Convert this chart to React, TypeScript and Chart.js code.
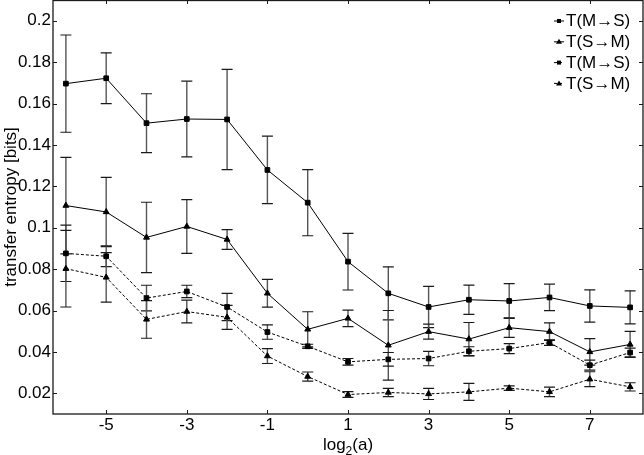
import React, { useEffect, useRef } from 'react';
import { Chart, registerables } from 'chart.js';

Chart.register(...registerables);

// ---- data ----
const xValues = [-6, -5, -4, -3, -2, -1, 0, 1, 2, 3, 4, 5, 6, 7, 8];

// T(M→S), solid line, squares
const mtsA = [0.1696, 0.1722, 0.1505, 0.1525, 0.1523, 0.1279, 0.1121, 0.0836, 0.0683, 0.0617, 0.0652, 0.0646, 0.0663, 0.0622, 0.0615];
const mtsAErr = [0.0235, 0.0123, 0.0142, 0.0183, 0.0242, 0.0163, 0.0160, 0.0137, 0.0128, 0.0100, 0.0071, 0.0084, 0.0064, 0.0078, 0.0080];

// T(S→M), solid line, triangles
const stmA = [0.1107, 0.1076, 0.0953, 0.1006, 0.0943, 0.0683, 0.0509, 0.0562, 0.0432, 0.0498, 0.0462, 0.0517, 0.0498, 0.0400, 0.0436];
const stmAErr = [0.0233, 0.0167, 0.0170, 0.0130, 0.0048, 0.0067, 0.0085, 0.0040, 0.0168, 0.0036, 0.0080, 0.0047, 0.0042, 0.0064, 0.0063];

// T(M→S), dashed line, squares
const mtsB = [0.0876, 0.0862, 0.0660, 0.0692, 0.0617, 0.0496, 0.0427, 0.0352, 0.0364, 0.0368, 0.0403, 0.0416, 0.0445, 0.0336, 0.0397];
const mtsBErr = [0.0136, 0.0050, 0.0062, 0.0030, 0.0066, 0.0035, 0.0010, 0.0016, 0.0033, 0.0035, 0.0022, 0.0024, 0.0013, 0.0024, 0.0021];

// T(S→M), dashed line, triangles
const stmB = [0.0802, 0.0760, 0.0557, 0.0595, 0.0567, 0.0380, 0.0281, 0.0194, 0.0204, 0.0197, 0.0207, 0.0225, 0.0207, 0.0268, 0.0231];
const stmBErr = [0.0185, 0.0120, 0.0091, 0.0055, 0.0058, 0.0036, 0.0022, 0.0014, 0.0020, 0.0027, 0.0041, 0.0011, 0.0023, 0.0036, 0.0020];

const seriesLabels = ['T(M\u2192S)', 'T(S\u2192M)', 'T(M\u2192S)', 'T(S\u2192M)'];
const xTickValues = [-5, -3, -1, 1, 3, 5, 7];
const yTickValues = [0.02, 0.04, 0.06, 0.08, 0.1, 0.12, 0.14, 0.16, 0.18, 0.2];
const xTitleParts = ['log', '2', '(a)'];
const yTitle = 'transfer entropy [bits]';

const FONT = '"Liberation Sans", Arial, Helvetica, sans-serif';

const errorBarPlugin = {
  id: 'errorBars',
  beforeDatasetsDraw(chart: any) {
    const ctx = chart.ctx;
    const yScale = chart.scales.y;
    chart.data.datasets.forEach((ds: any, i: number) => {
      const meta = chart.getDatasetMeta(i);
      meta.data.forEach((pt: any, j: number) => {
        const v = ds.data[j].y;
        const e = ds.errors[j];
        const top = yScale.getPixelForValue(v + e);
        const bot = yScale.getPixelForValue(v - e);
        const x = pt.x;
        ctx.save();
        ctx.strokeStyle = '#555';
        ctx.lineWidth = 1.4;
        ctx.beginPath();
        ctx.moveTo(x, top);
        ctx.lineTo(x, bot);
        ctx.stroke();
        ctx.strokeStyle = '#1a1a1a';
        ctx.lineWidth = 1.2;
        ctx.beginPath();
        ctx.moveTo(x - 5.5, top);
        ctx.lineTo(x + 5.5, top);
        ctx.moveTo(x - 5.5, bot);
        ctx.lineTo(x + 5.5, bot);
        ctx.stroke();
        ctx.restore();
      });
    });
  },
};

const framePlugin = {
  id: 'frame',
  afterDraw(chart: any) {
    const ctx = chart.ctx;
    const { left, right, top, bottom } = chart.chartArea;
    const xs = chart.scales.x;
    const ys = chart.scales.y;
    ctx.save();
    ctx.strokeStyle = '#1a1a1a';
    ctx.lineWidth = 1.3;
    ctx.strokeRect(left, top + 0.5, right - left, bottom - top - 0.5);
    ctx.lineWidth = 1;
    ctx.beginPath();
    const tl = 4;
    xTickValues.forEach((v) => {
      const px = Math.round(xs.getPixelForValue(v)) + 0.5;
      ctx.moveTo(px, bottom);
      ctx.lineTo(px, bottom - tl);
      ctx.moveTo(px, top);
      ctx.lineTo(px, top + tl);
    });
    yTickValues.forEach((v) => {
      const py = Math.round(ys.getPixelForValue(v)) + 0.5;
      ctx.moveTo(left, py);
      ctx.lineTo(left + tl, py);
      ctx.moveTo(right, py);
      ctx.lineTo(right - tl, py);
    });
    ctx.stroke();

    // x-axis title with a real subscript
    ctx.fillStyle = '#000';
    ctx.textBaseline = 'alphabetic';
    ctx.textAlign = 'left';
    const bigFont = `17px ${FONT}`;
    const smallFont = `12px ${FONT}`;
    ctx.font = bigFont;
    const w0 = ctx.measureText(xTitleParts[0]).width;
    const w2 = ctx.measureText(xTitleParts[2]).width;
    ctx.font = smallFont;
    const w1 = ctx.measureText(xTitleParts[1]).width;
    const total = w0 + w1 + w2;
    let tx = (left + right) / 2 - total / 2;
    const baseY = 450;
    ctx.font = bigFont;
    ctx.fillText(xTitleParts[0], tx, baseY);
    tx += w0;
    ctx.font = smallFont;
    ctx.fillText(xTitleParts[1], tx, baseY + 5);
    tx += w1;
    ctx.font = bigFont;
    ctx.fillText(xTitleParts[2], tx, baseY);

    // legend
    const textX = right - 77;
    ctx.font = `17px ${FONT}`;
    ctx.textBaseline = 'middle';
    ctx.textAlign = 'left';
    chart.data.datasets.forEach((ds: any, i: number) => {
      const y = top + 21 + i * 20.8;
      ctx.strokeStyle = '#000';
      ctx.lineWidth = 1;
      ctx.setLineDash(ds.borderDash || []);
      ctx.beginPath();
      ctx.moveTo(textX - 12, y);
      ctx.lineTo(textX - 2, y);
      ctx.stroke();
      ctx.setLineDash([]);
      ctx.fillStyle = '#000';
      const cx = textX - 7;
      ctx.beginPath();
      if (ds.pointStyle === 'rect') {
        ctx.rect(cx - 2, y - 2, 4, 4);
      } else {
        ctx.moveTo(cx, y - 3);
        ctx.lineTo(cx + 3, y + 2);
        ctx.lineTo(cx - 3, y + 2);
        ctx.closePath();
      }
      ctx.fill();
      ctx.fillText(ds.label, textX, y + 0.5);
    });
    ctx.restore();
  },
};

export default function App() {
  const ref = useRef<HTMLCanvasElement>(null);

  useEffect(() => {
    if (!ref.current) return;
    const series = [
      { label: seriesLabels[0], values: mtsA, err: mtsAErr, style: 'rect', dash: [] as number[] },
      { label: seriesLabels[1], values: stmA, err: stmAErr, style: 'triangle', dash: [] as number[] },
      { label: seriesLabels[2], values: mtsB, err: mtsBErr, style: 'rect', dash: [3, 2] },
      { label: seriesLabels[3], values: stmB, err: stmBErr, style: 'triangle', dash: [3, 2] },
    ];
    const datasets = series.map((s) => ({
      label: s.label,
      data: xValues.map((x, i) => ({ x, y: s.values[i] })),
      errors: s.err,
      borderColor: '#000',
      backgroundColor: '#000',
      borderWidth: 1,
      borderDash: s.dash,
      pointStyle: s.style,
      pointRadius: s.style === 'rect' ? 3.3 : 3.4,
      pointBackgroundColor: '#000',
      pointBorderColor: '#000',
      pointBorderWidth: 1,
      tension: 0,
      fill: false,
    }));

    const chart = new Chart(ref.current, {
      type: 'line',
      data: { datasets } as any,
      options: {
        responsive: false,
        animation: false,
        devicePixelRatio: 1,
        layout: { padding: { left: 0, right: 1, top: 0, bottom: 0 }, autoPadding: false } as any,
        plugins: {
          legend: { display: false },
          tooltip: { enabled: false },
        },
        scales: {
          x: {
            type: 'linear',
            min: -6.32,
            max: 8.32,
            grid: { display: false, drawTicks: false },
            border: { display: false },
            afterBuildTicks: (s: any) => {
              s.ticks = xTickValues.map((v) => ({ value: v }));
            },
            afterFit: (s: any) => {
              s.height = 41;
              s.paddingLeft = 0;
              s.paddingRight = 0;
            },
            ticks: {
              font: { family: FONT, size: 17 },
              color: '#000',
              padding: 1,
              maxRotation: 0,
              autoSkip: false,
              callback: (v: any) => String(v),
            },
            title: { display: false },
          },
          y: {
            type: 'linear',
            min: 0.01,
            max: 0.21,
            grid: { display: false, drawTicks: false },
            border: { display: false },
            afterBuildTicks: (s: any) => {
              s.ticks = yTickValues.map((v) => ({ value: v }));
            },
            afterFit: (s: any) => {
              s.width = 53;
              s.paddingTop = 0;
              s.paddingBottom = 0;
            },
            ticks: {
              font: { family: FONT, size: 17 },
              color: '#000',
              padding: 2,
              autoSkip: false,
              callback: (v: any) => String(Number(Number(v).toFixed(2))),
            },
            title: {
              display: true,
              text: yTitle,
              font: { family: FONT, size: 17 },
              color: '#000',
              padding: { top: 1, bottom: 0 },
            },
          },
        },
      } as any,
      plugins: [errorBarPlugin, framePlugin],
    });
    return () => chart.destroy();
  }, []);

  return (
    <div style={{ position: 'absolute', left: 0, top: 0, width: 644, height: 455, background: '#fff' }}>
      <canvas ref={ref} width={644} height={455} style={{ display: 'block', width: 644, height: 455 }} />
    </div>
  );
}
